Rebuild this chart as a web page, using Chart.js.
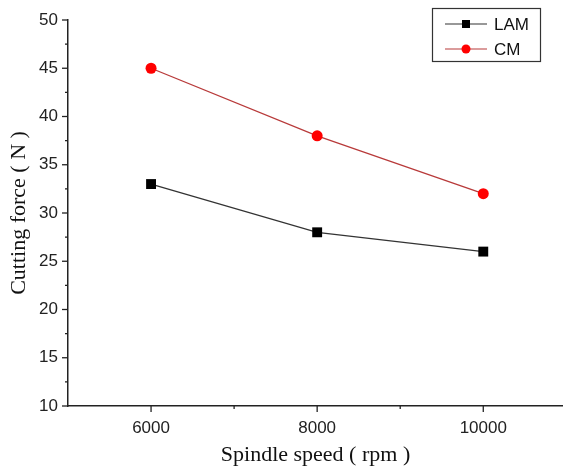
<!DOCTYPE html>
<html>
<head>
<meta charset="utf-8">
<script src="https://cdn.jsdelivr.net/npm/chart.js@4/dist/chart.umd.min.js"></script>
<style>
  html, body { margin: 0; padding: 0; background: #fff; }
  #wrap { width: 563px; height: 472px; }
</style>
</head>
<body>
<div id="wrap"><canvas id="linechart" width="563" height="472"></canvas></div>
<script>
var speeds = [6000, 8000, 10000];
var lamForce = [33, 28, 26];
var cmForce = [45, 38, 32];
var yTicks = [10, 15, 20, 25, 30, 35, 40, 45, 50];
var xTicks = [6000, 8000, 10000];

function pts(ys) {
    return speeds.map(function (s, i) { return { x: s, y: ys[i] }; });
}

// outward tick marks (major + minor) and the boxed legend
var extras = {
    id: 'extras',
    afterDraw: function (chart) {
        var c = chart.ctx, xs = chart.scales.x, ys = chart.scales.y;
        c.save();
        c.strokeStyle = '#222';
        c.lineWidth = 1.3;
        var v, p;
        for (v = 10; v <= 50; v += 2.5) {
            p = ys.getPixelForValue(v);
            var len = (v % 5 === 0) ? 6 : 3;
            c.beginPath(); c.moveTo(xs.left - len, p); c.lineTo(xs.left, p); c.stroke();
        }
        for (v = 6000; v <= 10000; v += 1000) {
            p = xs.getPixelForValue(v);
            var l2 = (v % 2000 === 0) ? 6 : 3;
            c.beginPath(); c.moveTo(p, ys.bottom); c.lineTo(p, ys.bottom + l2); c.stroke();
        }

        // legend
        c.lineWidth = 1.2;
        c.strokeStyle = '#333';
        c.strokeRect(432.5, 8.5, 108, 53);
        var rows = [
            { y: 24, ds: chart.data.datasets[0] },
            { y: 49, ds: chart.data.datasets[1] }
        ];
        c.font = '17px "Liberation Sans", Arial, sans-serif';
        c.textBaseline = 'middle';
        rows.forEach(function (r) {
            c.strokeStyle = r.ds.borderColor;
            c.lineWidth = 1.2;
            c.beginPath(); c.moveTo(445, r.y); c.lineTo(487, r.y); c.stroke();
            c.fillStyle = r.ds.pointBackgroundColor;
            if (r.ds.pointStyle === 'rect') {
                c.fillRect(462, r.y - 4, 8, 8);
            } else {
                c.beginPath(); c.arc(466, r.y, 4.5, 0, Math.PI * 2); c.fill();
            }
            c.fillStyle = '#111';
            c.fillText(r.ds.label, 494, r.y + 1);
        });
        c.restore();
    }
};

function plain(v) { return String(v); }

var ctx = document.getElementById('linechart').getContext('2d');
var myChart = new Chart(ctx, {
    type: 'line',
    data: {
        datasets: [{
            label: 'LAM',
            data: pts(lamForce),
            borderColor: '#333333',
            borderWidth: 1.3,
            pointStyle: 'rect',
            pointRadius: 7,
            pointBackgroundColor: '#000000',
            pointBorderColor: '#000000',
            pointBorderWidth: 0
        }, {
            label: 'CM',
            data: pts(cmForce),
            borderColor: '#b83a3a',
            borderWidth: 1.3,
            pointStyle: 'circle',
            pointRadius: 5.5,
            pointBackgroundColor: '#ff0000',
            pointBorderColor: '#ff0000',
            pointBorderWidth: 0
        }]
    },
    options: {
        responsive: false,
        animation: false,
        layout: { autoPadding: false, padding: { top: 20, right: 0, left: 0, bottom: 0 } },
        plugins: {
            legend: { display: false },
            tooltip: { enabled: false }
        },
        scales: {
            x: {
                type: 'linear',
                min: 5000,
                max: 10960,
                afterBuildTicks: function (s) { s.ticks = xTicks.map(function (v) { return { value: v }; }); },
                afterFit: function (s) { s.height = 66; s.paddingLeft = 0; s.paddingRight = 0; },
                grid: { color: 'transparent', drawTicks: false },
                border: { display: true, color: '#222', width: 1.5 },
                ticks: {
                    padding: 12,
                    color: '#222',
                    callback: plain,
                    font: { family: '"Liberation Sans", Arial, sans-serif', size: 17 }
                },
                title: {
                    display: true,
                    text: 'Spindle speed ( rpm )',
                    color: '#111',
                    padding: { top: 2, bottom: 4 },
                    font: { family: '"Liberation Serif", "Times New Roman", serif', size: 22 }
                }
            },
            y: {
                min: 10,
                max: 50,
                afterBuildTicks: function (s) { s.ticks = yTicks.map(function (v) { return { value: v }; }); },
                afterFit: function (s) { s.width = 68; s.paddingTop = 0; s.paddingBottom = 0; },
                grid: { color: 'transparent', drawTicks: false },
                border: { display: true, color: '#222', width: 1.5 },
                ticks: {
                    padding: 10,
                    color: '#222',
                    callback: plain,
                    font: { family: '"Liberation Sans", Arial, sans-serif', size: 17 }
                },
                title: {
                    display: true,
                    text: 'Cutting force ( N )',
                    color: '#111',
                    padding: { top: 6, bottom: 4 },
                    font: { family: '"Liberation Serif", "Times New Roman", serif', size: 22 }
                }
            }
        }
    },
    plugins: [extras]
});
</script>
</body>
</html>
